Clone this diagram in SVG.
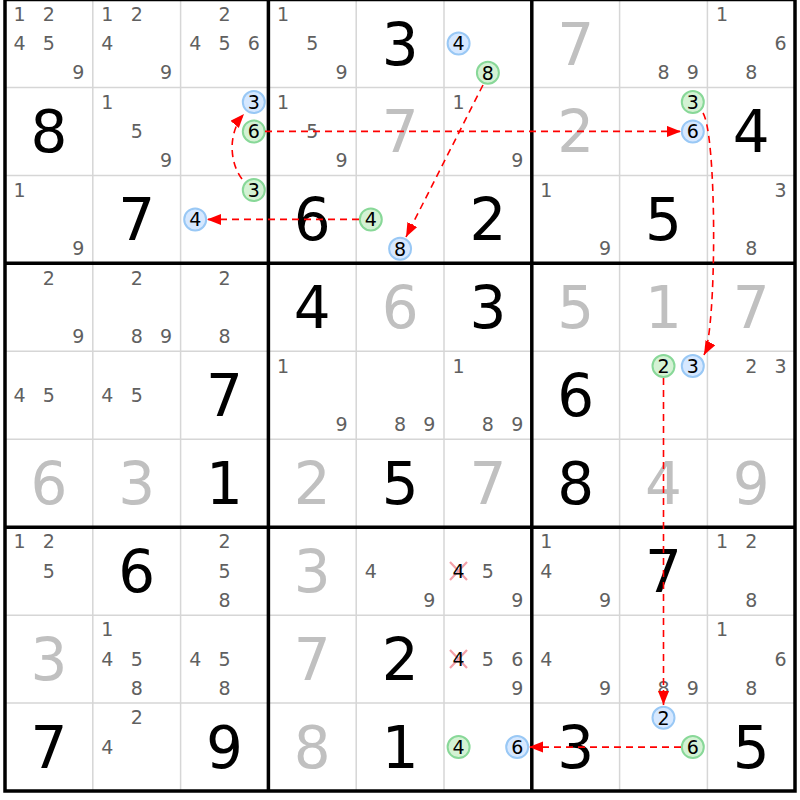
<svg xmlns="http://www.w3.org/2000/svg" width="800" height="800" viewBox="0 0 800 800">
<style>
text{font-family:"DejaVu Sans","Liberation Sans",sans-serif;text-anchor:middle}
.g{font-size:58px;fill:#000}
.s{font-size:58px;fill:#c0c0c0}
.c{font-size:19px;fill:#606060}
.k{font-size:19px;fill:#000}
.cb{fill:#d6e8ff;stroke:#99c8f5;stroke-width:2}
.cg{fill:#d4f2d4;stroke:#88d898;stroke-width:2}
.thin{stroke:#d6d6d6;stroke-width:1.5}
.thick{stroke:#000;stroke-width:3.5;fill:none}
.x{stroke:#f4a0a8;stroke-width:2.2}
.arr{fill:none;stroke:#ff0000;stroke-width:1.6;stroke-dasharray:7,5;marker-end:url(#ah)}
</style>
<defs>
<marker id="ah" markerUnits="userSpaceOnUse" markerWidth="16" markerHeight="12" refX="14" refY="5.5" orient="auto">
<path d="M0,0 L14,5.5 L0,11 z" fill="#ff0000"/>
</marker>
</defs>
<rect x="0" y="0" width="800" height="800" fill="#fff"/>
<g id="grid">
<path class="thin" d="M92.8,0V791M180.6,0V791M356.2,0V791M444,0V791M619.6,0V791M707.4,0V791M5,87.45H795M5,175.4H795M5,351.3H795M5,439.25H795M5,615.15H795M5,703.1H795"/>
<path class="thick" d="M268.4,0V791M531.8,0V791M5,263.35H795M5,527.2H795"/>
<rect class="thick" x="5" y="-0.5" width="790" height="791.5"/>
</g>
<g id="cells">
<g id="r0c0"><text class="c" x="19.6" y="20.7">1</text><text class="c" x="48.9" y="20.7">2</text><text class="c" x="19.6" y="50">4</text><text class="c" x="48.9" y="50">5</text><text class="c" x="78.2" y="79.3">9</text></g>
<g id="r0c1"><text class="c" x="107.4" y="20.7">1</text><text class="c" x="136.7" y="20.7">2</text><text class="c" x="107.4" y="50">4</text><text class="c" x="166" y="79.3">9</text></g>
<g id="r0c2"><text class="c" x="224.5" y="20.7">2</text><text class="c" x="195.2" y="50">4</text><text class="c" x="224.5" y="50">5</text><text class="c" x="253.8" y="50">6</text></g>
<g id="r0c3"><text class="c" x="283" y="20.7">1</text><text class="c" x="312.3" y="50">5</text><text class="c" x="341.6" y="79.3">9</text></g>
<g id="r0c4"><text class="g" x="400.1" y="64.5">3</text></g>
<g id="r0c5"><circle class="cb" cx="458.6" cy="43.5" r="11"/><text class="k" x="458.6" y="50.3">4</text><circle class="cg" cx="487.9" cy="72.8" r="11"/><text class="k" x="487.9" y="79.6">8</text></g>
<g id="r0c6"><text class="s" x="575.7" y="64.5">7</text></g>
<g id="r0c7"><text class="c" x="663.5" y="79.3">8</text><text class="c" x="692.8" y="79.3">9</text></g>
<g id="r0c8"><text class="c" x="722" y="20.7">1</text><text class="c" x="780.6" y="50">6</text><text class="c" x="751.3" y="79.3">8</text></g>

<g id="r1c0"><text class="g" x="48.9" y="152.4">8</text></g>
<g id="r1c1"><text class="c" x="107.4" y="108.6">1</text><text class="c" x="136.7" y="137.9">5</text><text class="c" x="166" y="167.2">9</text></g>
<g id="r1c2"><circle class="cb" cx="253.8" cy="102.1" r="11"/><text class="k" x="253.8" y="108.9">3</text><circle class="cg" cx="253.8" cy="131.4" r="11"/><text class="k" x="253.8" y="138.2">6</text></g>
<g id="r1c3"><text class="c" x="283" y="108.6">1</text><text class="c" x="312.3" y="137.9">5</text><text class="c" x="341.6" y="167.2">9</text></g>
<g id="r1c4"><text class="s" x="400.1" y="152.4">7</text></g>
<g id="r1c5"><text class="c" x="458.6" y="108.6">1</text><text class="c" x="517.2" y="167.2">9</text></g>
<g id="r1c6"><text class="s" x="575.7" y="152.4">2</text></g>
<g id="r1c7"><circle class="cg" cx="692.8" cy="102.1" r="11"/><text class="k" x="692.8" y="108.9">3</text><circle class="cb" cx="692.8" cy="131.4" r="11"/><text class="k" x="692.8" y="138.2">6</text></g>
<g id="r1c8"><text class="g" x="751.3" y="152.4">4</text></g>

<g id="r2c0"><text class="c" x="19.6" y="196.6">1</text><text class="c" x="78.2" y="255.2">9</text></g>
<g id="r2c1"><text class="g" x="136.7" y="240.4">7</text></g>
<g id="r2c2"><circle class="cg" cx="253.8" cy="190.1" r="11"/><text class="k" x="253.8" y="196.9">3</text><circle class="cb" cx="195.2" cy="219.4" r="11"/><text class="k" x="195.2" y="226.2">4</text></g>
<g id="r2c3"><text class="g" x="312.3" y="240.4">6</text></g>
<g id="r2c4"><circle class="cg" cx="370.8" cy="219.4" r="11"/><text class="k" x="370.8" y="226.2">4</text><circle class="cb" cx="400.1" cy="248.7" r="11"/><text class="k" x="400.1" y="255.5">8</text></g>
<g id="r2c5"><text class="g" x="487.9" y="240.4">2</text></g>
<g id="r2c6"><text class="c" x="546.4" y="196.6">1</text><text class="c" x="605" y="255.2">9</text></g>
<g id="r2c7"><text class="g" x="663.5" y="240.4">5</text></g>
<g id="r2c8"><text class="c" x="780.6" y="196.6">3</text><text class="c" x="751.3" y="255.2">8</text></g>

<g id="r3c0"><text class="c" x="48.9" y="284.5">2</text><text class="c" x="78.2" y="343.1">9</text></g>
<g id="r3c1"><text class="c" x="136.7" y="284.5">2</text><text class="c" x="136.7" y="343.1">8</text><text class="c" x="166" y="343.1">9</text></g>
<g id="r3c2"><text class="c" x="224.5" y="284.5">2</text><text class="c" x="224.5" y="343.1">8</text></g>
<g id="r3c3"><text class="g" x="312.3" y="328.3">4</text></g>
<g id="r3c4"><text class="s" x="400.1" y="328.3">6</text></g>
<g id="r3c5"><text class="g" x="487.9" y="328.3">3</text></g>
<g id="r3c6"><text class="s" x="575.7" y="328.3">5</text></g>
<g id="r3c7"><text class="s" x="663.5" y="328.3">1</text></g>
<g id="r3c8"><text class="s" x="751.3" y="328.3">7</text></g>

<g id="r4c0"><text class="c" x="19.6" y="401.8">4</text><text class="c" x="48.9" y="401.8">5</text></g>
<g id="r4c1"><text class="c" x="107.4" y="401.8">4</text><text class="c" x="136.7" y="401.8">5</text></g>
<g id="r4c2"><text class="g" x="224.5" y="416.3">7</text></g>
<g id="r4c3"><text class="c" x="283" y="372.5">1</text><text class="c" x="341.6" y="431.1">9</text></g>
<g id="r4c4"><text class="c" x="400.1" y="431.1">8</text><text class="c" x="429.4" y="431.1">9</text></g>
<g id="r4c5"><text class="c" x="458.6" y="372.5">1</text><text class="c" x="487.9" y="431.1">8</text><text class="c" x="517.2" y="431.1">9</text></g>
<g id="r4c6"><text class="g" x="575.7" y="416.3">6</text></g>
<g id="r4c7"><circle class="cg" cx="663.5" cy="366" r="11"/><text class="k" x="663.5" y="372.8">2</text><circle class="cb" cx="692.8" cy="366" r="11"/><text class="k" x="692.8" y="372.8">3</text></g>
<g id="r4c8"><text class="c" x="751.3" y="372.5">2</text><text class="c" x="780.6" y="372.5">3</text></g>

<g id="r5c0"><text class="s" x="48.9" y="504.2">6</text></g>
<g id="r5c1"><text class="s" x="136.7" y="504.2">3</text></g>
<g id="r5c2"><text class="g" x="224.5" y="504.2">1</text></g>
<g id="r5c3"><text class="s" x="312.3" y="504.2">2</text></g>
<g id="r5c4"><text class="g" x="400.1" y="504.2">5</text></g>
<g id="r5c5"><text class="s" x="487.9" y="504.2">7</text></g>
<g id="r5c6"><text class="g" x="575.7" y="504.2">8</text></g>
<g id="r5c7"><text class="s" x="663.5" y="504.2">4</text></g>
<g id="r5c8"><text class="s" x="751.3" y="504.2">9</text></g>

<g id="r6c0"><text class="c" x="19.6" y="548.4">1</text><text class="c" x="48.9" y="548.4">2</text><text class="c" x="48.9" y="577.7">5</text></g>
<g id="r6c1"><text class="g" x="136.7" y="592.2">6</text></g>
<g id="r6c2"><text class="c" x="224.5" y="548.4">2</text><text class="c" x="224.5" y="577.7">5</text><text class="c" x="224.5" y="607">8</text></g>
<g id="r6c3"><text class="s" x="312.3" y="592.2">3</text></g>
<g id="r6c4"><text class="c" x="370.8" y="577.7">4</text><text class="c" x="429.4" y="607">9</text></g>
<g id="r6c5"><path class="x" d="M450,562L467,580M467,562L450,580"/><text class="k" x="458.6" y="577.7">4</text><text class="c" x="487.9" y="577.7">5</text><text class="c" x="517.2" y="607">9</text></g>
<g id="r6c6"><text class="c" x="546.4" y="548.4">1</text><text class="c" x="546.4" y="577.7">4</text><text class="c" x="605" y="607">9</text></g>
<g id="r6c7"><text class="g" x="663.5" y="592.2">7</text></g>
<g id="r6c8"><text class="c" x="722" y="548.4">1</text><text class="c" x="751.3" y="548.4">2</text><text class="c" x="751.3" y="607">8</text></g>

<g id="r7c0"><text class="s" x="48.9" y="680.1">3</text></g>
<g id="r7c1"><text class="c" x="107.4" y="636.3">1</text><text class="c" x="107.4" y="665.6">4</text><text class="c" x="136.7" y="665.6">5</text><text class="c" x="136.7" y="694.9">8</text></g>
<g id="r7c2"><text class="c" x="195.2" y="665.6">4</text><text class="c" x="224.5" y="665.6">5</text><text class="c" x="224.5" y="694.9">8</text></g>
<g id="r7c3"><text class="s" x="312.3" y="680.1">7</text></g>
<g id="r7c4"><text class="g" x="400.1" y="680.1">2</text></g>
<g id="r7c5"><path class="x" d="M450,650L467,668M467,650L450,668"/><text class="k" x="458.6" y="665.6">4</text><text class="c" x="487.9" y="665.6">5</text><text class="c" x="517.2" y="665.6">6</text><text class="c" x="517.2" y="694.9">9</text></g>
<g id="r7c6"><text class="c" x="546.4" y="665.6">4</text><text class="c" x="605" y="694.9">9</text></g>
<g id="r7c7"><text class="c" x="663.5" y="694.9">8</text><text class="c" x="692.8" y="694.9">9</text></g>
<g id="r7c8"><text class="c" x="722" y="636.3">1</text><text class="c" x="780.6" y="665.6">6</text><text class="c" x="751.3" y="694.9">8</text></g>

<g id="r8c0"><text class="g" x="48.9" y="768.1">7</text></g>
<g id="r8c1"><text class="c" x="136.7" y="724.3">2</text><text class="c" x="107.4" y="753.6">4</text></g>
<g id="r8c2"><text class="g" x="224.5" y="768.1">9</text></g>
<g id="r8c3"><text class="s" x="312.3" y="768.1">8</text></g>
<g id="r8c4"><text class="g" x="400.1" y="768.1">1</text></g>
<g id="r8c5"><circle class="cg" cx="458.6" cy="747.1" r="11"/><text class="k" x="458.6" y="753.9">4</text><circle class="cb" cx="517.2" cy="747.1" r="11"/><text class="k" x="517.2" y="753.9">6</text></g>
<g id="r8c6"><text class="g" x="575.7" y="768.1">3</text></g>
<g id="r8c7"><circle class="cb" cx="663.5" cy="717.8" r="11"/><text class="k" x="663.5" y="724.6">2</text><circle class="cg" cx="692.8" cy="747.1" r="11"/><text class="k" x="692.8" y="753.9">6</text></g>
<g id="r8c8"><text class="g" x="751.3" y="768.1">5</text></g>
</g>
<g id="connectors">
<path class="arr" d="M242,179 C229,162 228,132 244,114"/>
<path class="arr" d="M265,131.4 L681,131.4"/>
<path class="arr" d="M703,113 C717,135 717,330 704,355"/>
<path class="arr" d="M483,85 L406,237"/>
<path class="arr" d="M359,219.4 L207,219.4"/>
<path class="arr" d="M663.5,378 L663.5,705"/>
<path class="arr" d="M681,747.1 L529,747.1"/>
</g>
</svg>
